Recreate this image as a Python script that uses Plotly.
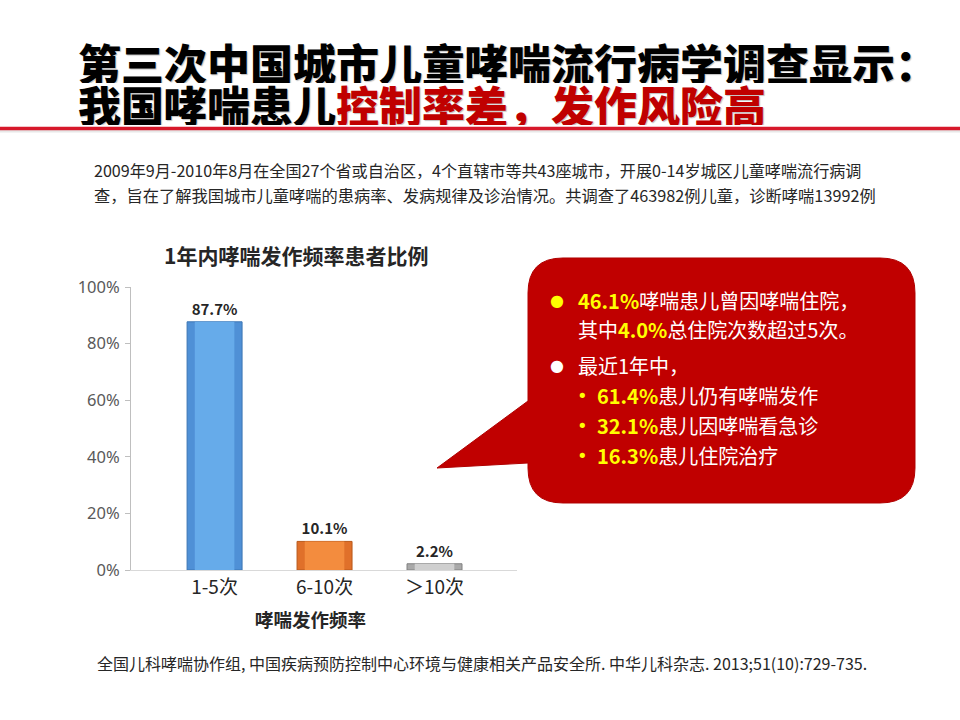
import plotly.graph_objects as go

categories = ["1-5次", "6-10次", "＞10次"]
values = [87.7, 10.1, 2.2]
value_labels = ["87.7%", "10.1%", "2.2%"]
bar_colors = ["#4F90D6", "#E0702A", "#A9A9A9"]
bar_inner = ["#66ABEA", "#F38C3E", "#CFCFCF"]
bar_edges = ["#3C76B4", "#B8581A", "#808080"]
y_ticks = [0, 20, 40, 60, 80, 100]
y_tick_text = ["0%", "20%", "40%", "60%", "80%", "100%"]

title_l1 = "第三次中国城市儿童哮喘流行病学调查显示："
title_l2a = "我国哮喘患儿"
title_l2b = "控制率差，发作风险高"
sub_l1 = "2009年9月-2010年8月在全国27个省或自治区，4个直辖市等共43座城市，开展0-14岁城区儿童哮喘流行病调"
sub_l2 = "查，旨在了解我国城市儿童哮喘的患病率、发病规律及诊治情况。共调查了463982例儿童，诊断哮喘13992例"
chart_title = "1年内哮喘发作频率患者比例"
x_title = "哮喘发作频率"
footer = "全国儿科哮喘协作组, 中国疾病预防控制中心环境与健康相关产品安全所. 中华儿科杂志. 2013;51(10):729-735."

callout_lines = [
    ("●", "#FFFF00", "46.1%", "哮喘患儿曾因哮喘住院，", 0),
    ("", "", "其中", "", 0),
    ("●", "#FFFFFF", "", "最近1年中，", 0),
    ("•", "#FFFF00", "61.4%", "患儿仍有哮喘发作", 1),
    ("•", "#FFFF00", "32.1%", "患儿因哮喘看急诊", 1),
    ("•", "#FFFF00", "16.3%", "患儿住院治疗", 1),
]

W, H = 960, 720
FONT = "Noto Sans CJK SC"


def X(px):
    return px / W


def Y(py):
    return 1 - py / H


fig = go.Figure()
fig.add_trace(go.Bar(
    x=categories, y=values, text=value_labels, textposition="outside",
    textfont=dict(family=FONT, size=15, color="#262626", weight="bold"),
    marker=dict(color=bar_colors, line=dict(color=bar_edges, width=1)),
    width=0.5, cliponaxis=False, hoverinfo="skip",
))
fig.add_trace(go.Bar(
    x=categories, y=values,
    marker=dict(color=bar_inner, line=dict(width=0)),
    width=0.36, hoverinfo="skip",
))

fig.update_layout(
    width=W, height=H, autosize=False, barmode="overlay",
    margin=dict(l=0, r=0, t=0, b=0, pad=0),
    paper_bgcolor="white", plot_bgcolor="white",
    showlegend=False,
    font=dict(family=FONT),
    xaxis=dict(domain=[X(131), X(517)], range=[-0.76, 2.75], automargin=False,
               showline=True, linecolor="#D9D9D9", linewidth=1,
               ticks="", showgrid=False, zeroline=False,
               tickfont=dict(family=FONT, size=19, color="#262626")),
    yaxis=dict(domain=[Y(570), Y(287)], range=[0, 100], automargin=False,
               tickmode="array", tickvals=y_ticks, ticktext=y_tick_text,
               showline=True, linecolor="#BFBFBF", linewidth=1,
               ticks="outside", ticklen=5, tickcolor="#BFBFBF",
               showgrid=False, zeroline=False, ticklabelstandoff=2,
               tickfont=dict(family="Noto Sans", size=16.5, color="#595959")),
)

shadow = "1px 1px 1px rgba(0,0,0,0.25)"
ann = []
ann.append(dict(x=X(76), y=Y(61), text=title_l1, xanchor="left", yanchor="middle",
                height=43, valign="middle",
                font=dict(family=FONT, size=43, color="#000000", weight=900, shadow=shadow)))
ann.append(dict(x=X(76), y=Y(104),
                text=title_l2a + "<span style='color:#C00000'>" + title_l2b + "</span>",
                xanchor="left", yanchor="middle", height=43, valign="middle",
                font=dict(family=FONT, size=43, color="#000000", weight=900, shadow=shadow)))
ann.append(dict(x=X(92), y=Y(170), text=sub_l1, xanchor="left", yanchor="middle",
                font=dict(family=FONT, size=16.1, color="#262626")))
ann.append(dict(x=X(92), y=Y(195), text=sub_l2, xanchor="left", yanchor="middle",
                font=dict(family=FONT, size=16.25, color="#262626")))
ann.append(dict(x=X(296), y=Y(255), text=chart_title, xanchor="center", yanchor="middle",
                font=dict(family=FONT, size=21, color="#262626", weight="bold")))
ann.append(dict(x=X(310), y=Y(619), text=x_title, xanchor="center", yanchor="middle",
                font=dict(family=FONT, size=18.5, color="#262626", weight="bold")))
ann.append(dict(x=X(95), y=Y(663), text=footer, xanchor="left", yanchor="middle",
                font=dict(family=FONT, size=16, color="#262626")))

# callout text
line_y = [300, 330, 365, 395, 425, 455]
for (bullet, bcol, hl, rest, lvl), ly in zip(callout_lines, line_y):
    if lvl == 0:
        bx, tx = 557, 576
    else:
        bx, tx = 582, 595
    if bullet:
        ann.append(dict(x=X(bx), y=Y(ly), text=bullet, xanchor="center", yanchor="middle",
                        font=dict(family="DejaVu Sans", size=16 if lvl == 0 else 18, color=bcol)))
    if hl == "其中":
        txt = ("其中<span style='color:#FFFF00'><b>4.0%</b></span>总住院次数超过5次。")
    elif hl:
        txt = "<span style='color:#FFFF00'><b>" + hl + "</b></span>" + rest
    else:
        txt = rest
    ann.append(dict(x=X(tx), y=Y(ly), text=txt, xanchor="left", yanchor="middle",
                    font=dict(family=FONT, size=20, color="#FFFFFF")))

for a in ann:
    a.update(xref="paper", yref="paper", showarrow=False)
fig.update_layout(annotations=ann)

# callout shape path
x0, x1, y0, y1, r = 528, 915, 258, 503, 35
pts = [
    ("M", [(x0 + r, y0)]),
    ("L", [(x1 - r, y0)]),
    ("Q", [(x1, y0), (x1, y0 + r)]),
    ("L", [(x1, y1 - r)]),
    ("Q", [(x1, y1), (x1 - r, y1)]),
    ("L", [(x0 + r, y1)]),
    ("Q", [(x0, y1), (x0, y1 - r)]),
    ("L", [(x0, 463)]),
    ("L", [(437, 468)]),
    ("L", [(x0, 401)]),
    ("L", [(x0, y0 + r)]),
    ("Q", [(x0, y0), (x0 + r, y0)]),
]
path = ""
for cmd, ps in pts:
    path += cmd + " " + " ".join(f"{X(px):.5f},{Y(py):.5f}" for px, py in ps) + " "
path += "Z"

fig.update_layout(shapes=[
    dict(type="line", xref="paper", yref="paper", x0=0, x1=1, y0=Y(131), y1=Y(131),
         line=dict(color="#E8E8E8", width=3), layer="below"),
    dict(type="line", xref="paper", yref="paper", x0=0, x1=1, y0=Y(128.5), y1=Y(128.5),
         line=dict(color="#D7182A", width=3.5)),
    dict(type="path", xref="paper", yref="paper", path=path,
         fillcolor="#C00000", line=dict(color="#B00000", width=1), layer="below"),
])

fig.write_html("out.html", config={"displayModeBar": False},
               post_script="document.body.style.margin='0';")
